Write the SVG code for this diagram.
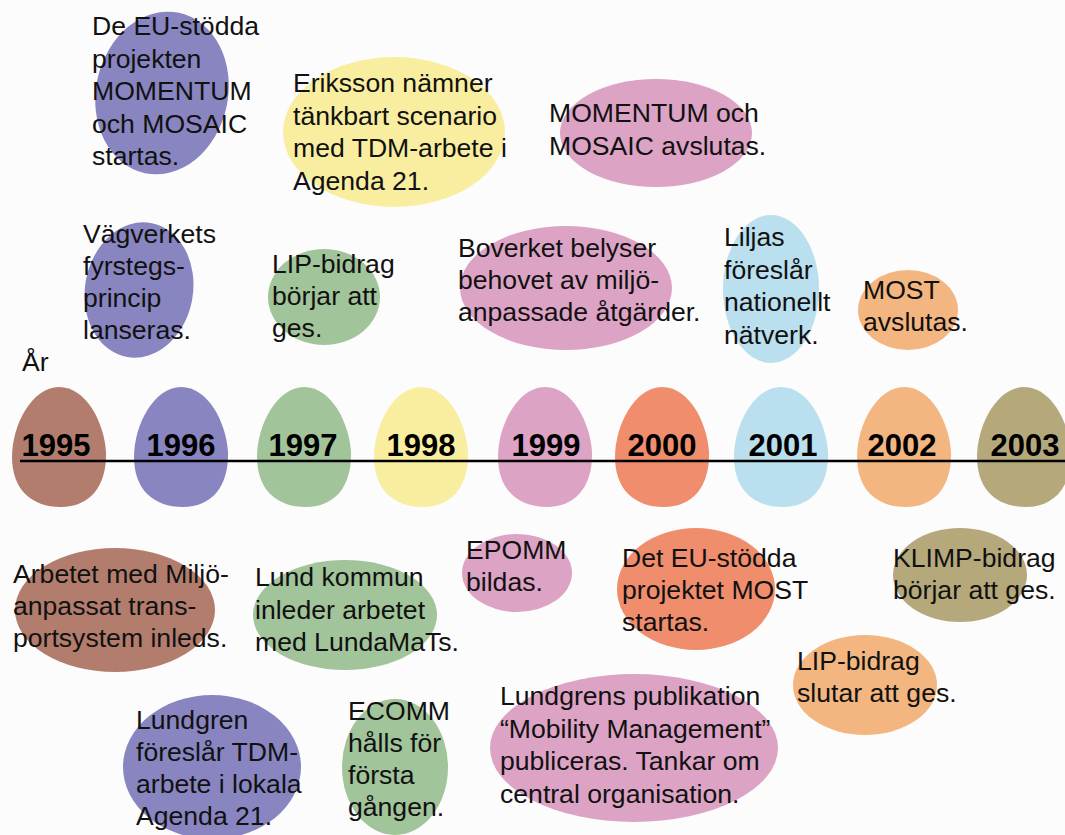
<svg xmlns="http://www.w3.org/2000/svg" width="1065" height="835" viewBox="0 0 1065 835">
<defs>
<style>
.t{font-family:"Liberation Sans",Arial,sans-serif;font-size:26.6px;fill:#111}
.y{font-family:"Liberation Sans",Arial,sans-serif;font-size:31px;font-weight:bold;fill:#000;text-anchor:middle}
.brown{fill:#b37d6e}.purple{fill:#8985c1}.green{fill:#a1c49a}.yellow{fill:#f9ee9f}.pink{fill:#dda3c5}.red{fill:#ef8d6d}.blue{fill:#badfee}.orange{fill:#f3b680}.olive{fill:#b5a97b}
</style>
<path id="egg" d="M0,-60 C27,-60 45,-25 47,5 C48,40 30,60 2,60 C-28,60 -47,42 -47,10 C-47,-22 -27,-60 0,-60 Z"/>
</defs>
<rect width="1065" height="835" fill="#fcfcfc"/>

<g id="years">
<g id="y1995"><use href="#egg" class="brown" transform="translate(59,447)"/><text class="y" x="56" y="456">1995</text></g>
<g id="y1996"><use href="#egg" class="purple" transform="translate(181,447)"/><text class="y" x="181" y="456">1996</text></g>
<g id="y1997"><use href="#egg" class="green" transform="translate(304,447)"/><text class="y" x="303" y="456">1997</text></g>
<g id="y1998"><use href="#egg" class="yellow" transform="translate(421,447)"/><text class="y" x="421" y="456">1998</text></g>
<g id="y1999"><use href="#egg" class="pink" transform="translate(545,447)"/><text class="y" x="546" y="456">1999</text></g>
<g id="y2000"><use href="#egg" class="red" transform="translate(662,447)"/><text class="y" x="662" y="456">2000</text></g>
<g id="y2001"><use href="#egg" class="blue" transform="translate(781,447)"/><text class="y" x="783" y="456">2001</text></g>
<g id="y2002"><use href="#egg" class="orange" transform="translate(904,447)"/><text class="y" x="902" y="456">2002</text></g>
<g id="y2003"><use href="#egg" class="olive" transform="translate(1024,447)"/><text class="y" x="1025" y="456">2003</text></g>
</g>

<g id="connectors">
<line x1="20" y1="461" x2="1065" y2="461" stroke="#000" stroke-width="2.5"/>
</g>

<g id="label-ar"><text class="t" x="22" y="371">År</text></g>

<g id="n1"><ellipse class="purple" cx="162" cy="93" rx="66" ry="82" transform="rotate(12 162 93)"/>
<text class="t" x="92" y="35">De EU-stödda</text><text class="t" x="92" y="67.5">projekten</text><text class="t" x="92" y="100">MOMENTUM</text><text class="t" x="92" y="132.5">och MOSAIC</text><text class="t" x="92" y="165">startas.</text></g>

<g id="n2"><ellipse class="yellow" cx="394" cy="132" rx="111" ry="75"/>
<text class="t" x="293" y="92">Eriksson nämner</text><text class="t" x="293" y="124.5">tänkbart scenario</text><text class="t" x="293" y="157">med TDM-arbete i</text><text class="t" x="293" y="189.5">Agenda 21.</text></g>

<g id="n3"><ellipse class="pink" cx="656" cy="133" rx="96" ry="54"/>
<text class="t" x="549" y="122">MOMENTUM och</text><text class="t" x="549" y="154.5">MOSAIC avslutas.</text></g>

<g id="n4"><ellipse class="purple" cx="139" cy="290" rx="54" ry="68" transform="rotate(10 139 290)"/>
<text class="t" x="83" y="243">Vägverkets</text><text class="t" x="83" y="275">fyrstegs-</text><text class="t" x="83" y="307">princip</text><text class="t" x="83" y="339">lanseras.</text></g>

<g id="n5"><ellipse class="green" cx="324" cy="297" rx="56" ry="48"/>
<text class="t" x="272" y="273">LIP-bidrag</text><text class="t" x="272" y="305">börjar att</text><text class="t" x="272" y="337">ges.</text></g>

<g id="n6"><ellipse class="pink" cx="566" cy="288" rx="106" ry="62"/>
<text class="t" x="458" y="257">Boverket belyser</text><text class="t" x="458" y="289">behovet av miljö-</text><text class="t" x="458" y="321">anpassade åtgärder.</text></g>

<g id="n7"><ellipse class="blue" cx="771" cy="289" rx="48" ry="74"/>
<text class="t" x="724" y="246">Liljas</text><text class="t" x="724" y="278.5">föreslår</text><text class="t" x="724" y="311">nationellt</text><text class="t" x="724" y="343.5">nätverk.</text></g>

<g id="n8"><ellipse class="orange" cx="908" cy="310" rx="50" ry="40"/>
<text class="t" x="863" y="299">MOST</text><text class="t" x="863" y="331">avslutas.</text></g>

<g id="n9"><ellipse class="brown" cx="115" cy="610" rx="100" ry="62"/>
<text class="t" x="13" y="583">Arbetet med Miljö-</text><text class="t" x="13" y="615">anpassat trans-</text><text class="t" x="13" y="647">portsystem inleds.</text></g>

<g id="n10"><ellipse class="green" cx="345" cy="615" rx="92" ry="55"/>
<text class="t" x="255" y="586">Lund kommun</text><text class="t" x="255" y="618.5">inleder arbetet</text><text class="t" x="255" y="651">med LundaMaTs.</text></g>

<g id="n11"><ellipse class="pink" cx="517" cy="573" rx="55" ry="39"/>
<text class="t" x="466" y="559">EPOMM</text><text class="t" x="466" y="591">bildas.</text></g>

<g id="n12"><ellipse class="red" cx="696" cy="589" rx="79" ry="61"/>
<text class="t" x="622" y="567">Det EU-stödda</text><text class="t" x="622" y="599">projektet MOST</text><text class="t" x="622" y="631">startas.</text></g>

<g id="n13"><ellipse class="olive" cx="960" cy="575" rx="67" ry="47"/>
<text class="t" x="893" y="567">KLIMP-bidrag</text><text class="t" x="893" y="599">börjar att ges.</text></g>

<g id="n14"><ellipse class="orange" cx="865" cy="685" rx="72" ry="50"/>
<text class="t" x="797" y="670">LIP-bidrag</text><text class="t" x="797" y="702">slutar att ges.</text></g>

<g id="n15"><ellipse class="purple" cx="212" cy="767" rx="89" ry="72"/>
<text class="t" x="136" y="729">Lundgren</text><text class="t" x="136" y="761">föreslår TDM-</text><text class="t" x="136" y="793">arbete i lokala</text><text class="t" x="136" y="825">Agenda 21.</text></g>

<g id="n16"><ellipse class="green" cx="395" cy="767" rx="53" ry="68"/>
<text class="t" x="348" y="720">ECOMM</text><text class="t" x="348" y="752">hålls för</text><text class="t" x="348" y="784">första</text><text class="t" x="348" y="816">gången.</text></g>

<g id="n17"><ellipse class="pink" cx="634" cy="748" rx="144" ry="74"/>
<text class="t" x="500" y="705">Lundgrens publikation</text><text class="t" x="500" y="737.5">“Mobility Management”</text><text class="t" x="500" y="770">publiceras. Tankar om</text><text class="t" x="500" y="802.5">central organisation.</text></g>
</svg>
